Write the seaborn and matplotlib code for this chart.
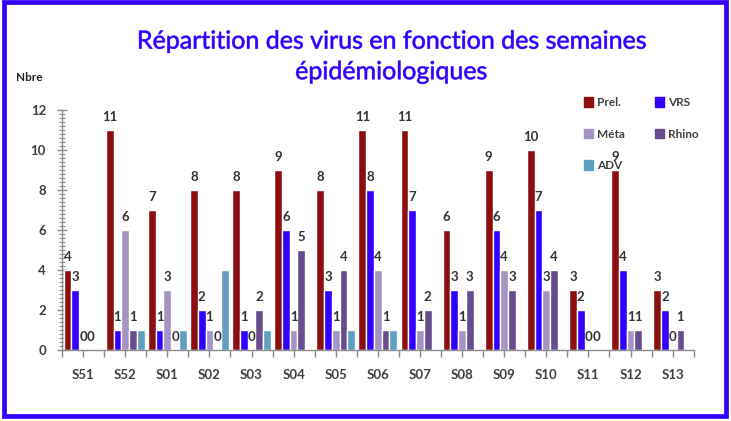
import numpy as np
import pandas as pd
import matplotlib
matplotlib.use("Agg")
import matplotlib.pyplot as plt
import matplotlib.patheffects as pe
import seaborn as sns
from matplotlib.patches import Rectangle

# Data
weeks = ["S51", "S52", "S01", "S02", "S03", "S04", "S05", "S06",
         "S07", "S08", "S09", "S10", "S11", "S12", "S13"]
prel = [4, 11, 7, 8, 8, 9, 8, 11, 11, 6, 9, 10, 3, 9, 3]
vrs = [3, 1, 1, 2, 1, 6, 3, 8, 7, 3, 6, 7, 2, 4, 2]
meta = [0, 6, 3, 1, 0, 1, 1, 4, 1, 1, 4, 3, 0, 1, 0]
rhino = [0, 1, 0, 0, 2, 5, 4, 1, 2, 3, 3, 4, 0, 1, 1]
adv = [0, 1, 1, 4, 1, 0, 1, 1, 0, 0, 0, 0, 0, 0, 0]

series = ["Prel.", "VRS", "Méta", "Rhino", "ADV"]
colors = ["#8C0F0F", "#3300FF", "#A493C4", "#674C8E", "#5F9EBF"]

df = pd.DataFrame({"Semaine": weeks, "Prel.": prel, "VRS": vrs,
                   "Méta": meta, "Rhino": rhino, "ADV": adv})
long_df = df.melt(id_vars="Semaine", var_name="Virus", value_name="Nbre")

sns.set_style("white")
plt.rcParams['font.family'] = ['Lato', 'DejaVu Sans']

fig = plt.figure(figsize=(7.31, 4.21), dpi=100)
ax = fig.add_axes([0.0848, 0.1686, 0.8642, 0.5701])

sns.barplot(data=long_df, x="Semaine", y="Nbre", hue="Virus",
            hue_order=series, palette=colors, order=weeks,
            width=0.92, saturation=1, dodge=True, ax=ax, legend=False)

# value labels (no labels on ADV)
for cont in ax.containers[:4]:
    ax.bar_label(cont, padding=5, fontsize=9.5, fontweight='bold', color='#333333')

ax.set_xlim(-0.5, 14.5)
ax.set_ylim(0, 12)
ax.set_yticks(np.arange(0, 13, 2))
ax.set_yticks(np.arange(0, 12.01, 0.2), minor=True)
ax.set_xticks(np.arange(-0.5, 14.6, 1), minor=True)
ax.set_xlabel("")
ax.set_ylabel("")

for s in ["top", "right"]:
    ax.spines[s].set_visible(False)
for s in ["left", "bottom"]:
    ax.spines[s].set_color("#8C8C8C")
    ax.spines[s].set_linewidth(1)

ax.tick_params(axis='y', which='major', direction='inout', length=7, width=1,
               color='#8C8C8C', labelsize=9.5, pad=8, left=True)
ax.tick_params(axis='y', which='minor', direction='inout', length=5, width=0.8,
               color='#8C8C8C', left=True)
ax.tick_params(axis='x', which='both', direction='out', length=5, width=1,
               color='#8C8C8C', labelsize=9.5, pad=9, bottom=True)
for lbl in ax.get_xticklabels() + ax.get_yticklabels():
    lbl.set_fontweight('bold')
    lbl.set_color('#404040')

# legend, laid out row by row like the original
handles = [Rectangle((0, 0), 1, 1, color=c) for c in colors]
order = [0, 2, 4, 1, 3]
leg = fig.legend([handles[i] for i in order], [series[i] for i in order],
                 loc='upper left', bbox_to_anchor=(0.785, 0.795), ncol=2,
                 frameon=False, handlelength=0.75, handleheight=0.9,
                 handletextpad=0.3, columnspacing=2.6, labelspacing=1.75,
                 prop={'weight': 'bold', 'size': 8.5})
for t in leg.get_texts():
    t.set_color('#404040')

fig.text(0.535, 0.866, "Répartition des virus en fonction des semaines\népidémiologiques",
         ha='center', va='center', fontsize=18, color='#3300FF',
         linespacing=1.4,
         path_effects=[pe.withStroke(linewidth=0.6, foreground='#7A66FF')])
fig.text(0.022, 0.815, "Nbre", fontsize=8.5, fontweight='bold', color='#222222',
         ha='left', va='center')

# blue frame around the chart
fig.patches.append(Rectangle((0.0055, 0.012), 0.9875, 0.984, transform=fig.transFigure,
                             fill=False, edgecolor='#3300FF', linewidth=3.4))

fig.savefig("out.png", dpi=100)
